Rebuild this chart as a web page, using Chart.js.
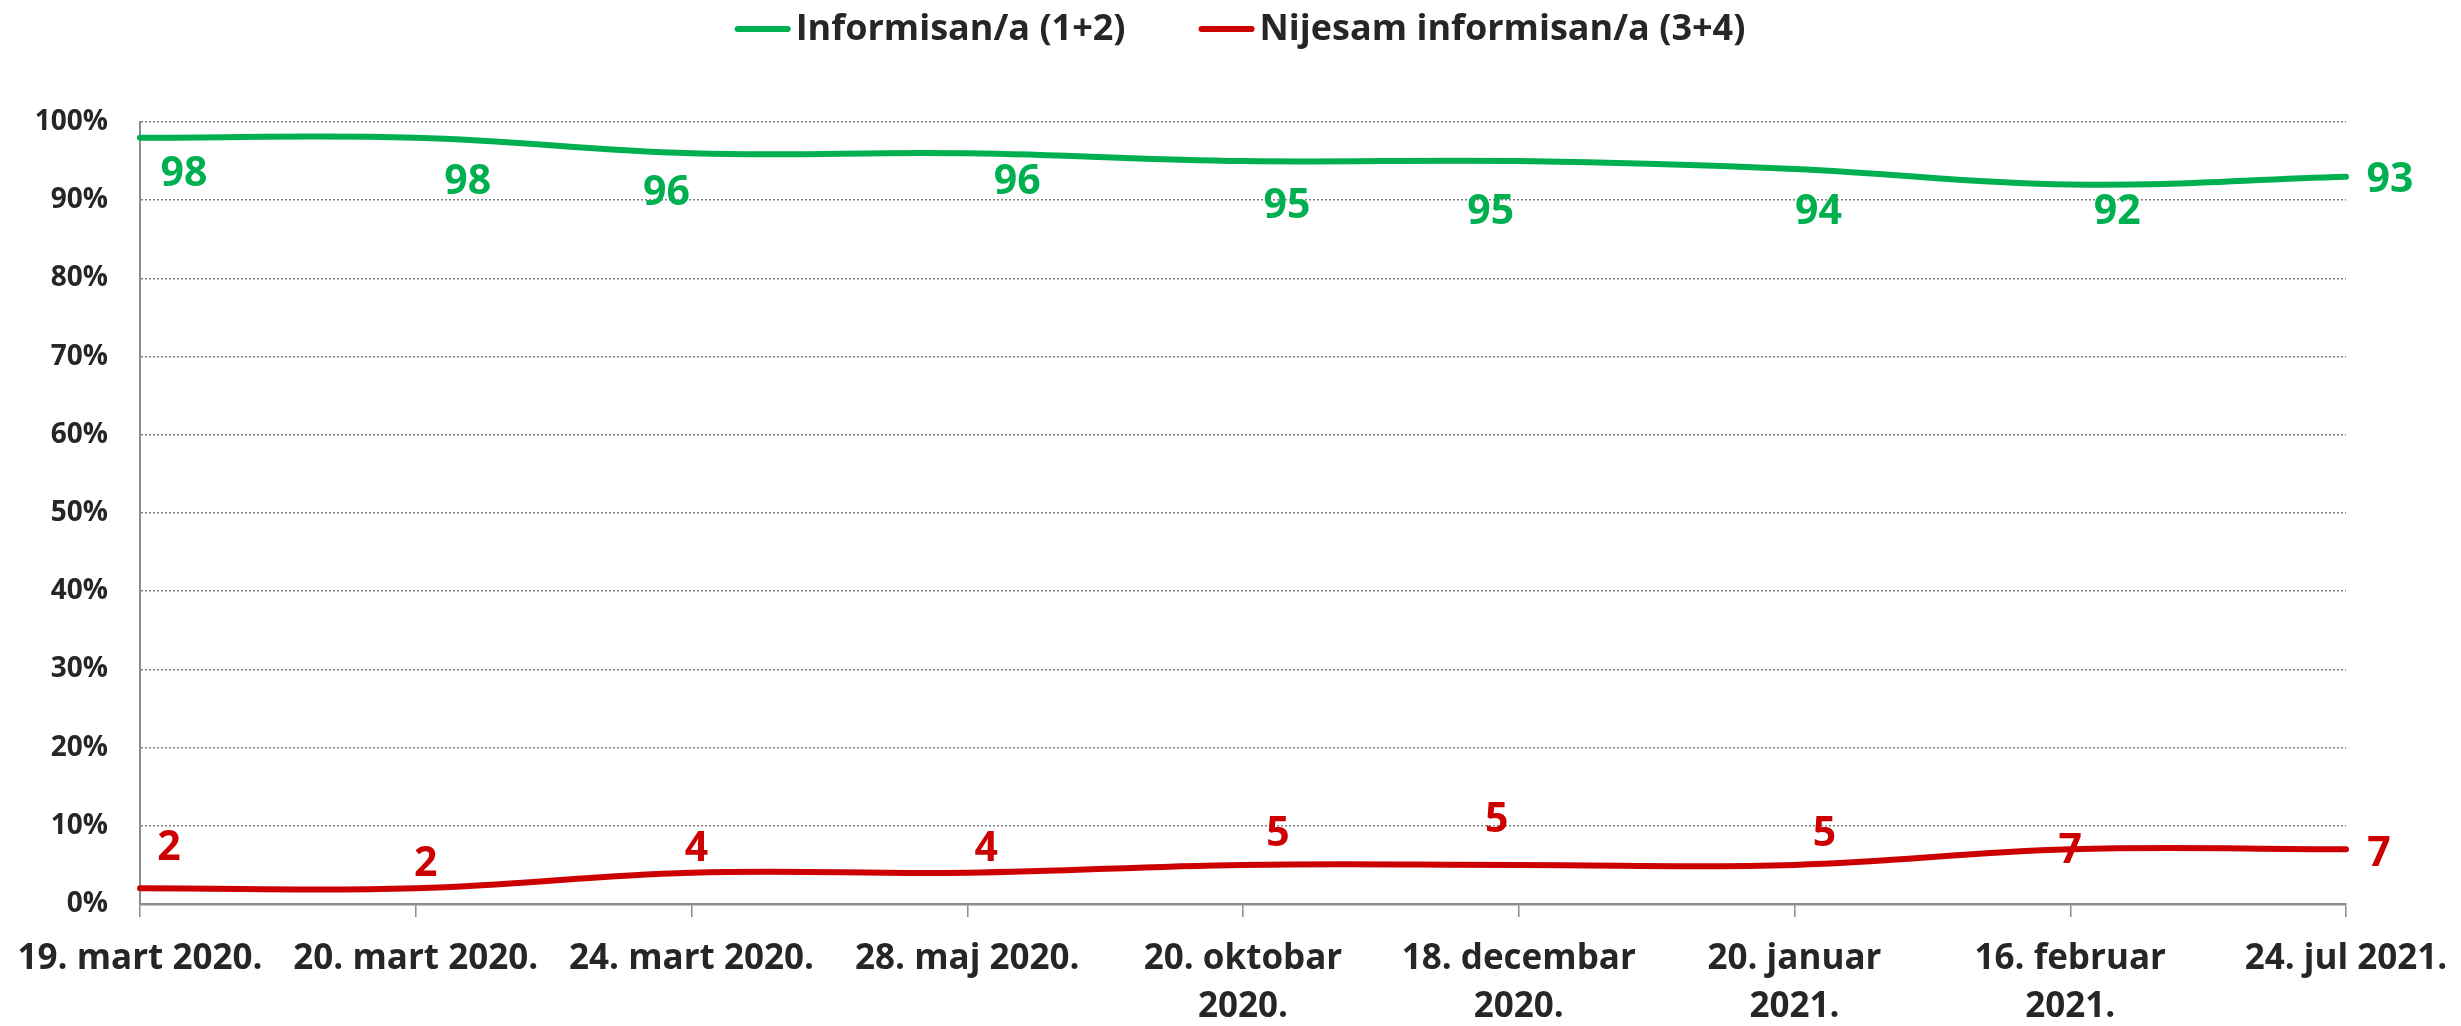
<!DOCTYPE html>
<html>
<head>
<meta charset="utf-8">
<script src="https://cdn.jsdelivr.net/npm/chart.js@4.4.1/dist/chart.umd.min.js"></script>
<style>
  html, body { margin: 0; padding: 0; background: #fff; }
  #wrap { width: 2461px; height: 1026px; }
</style>
</head>
<body>
<div id="wrap"><canvas id="lineChart"></canvas></div>
<script>
// survey dates (x axis), two-line where the original wraps
const dates = [
  "19. mart 2020.",
  "20. mart 2020.",
  "24. mart 2020.",
  "28. maj 2020.",
  ["20. oktobar", "2020."],
  ["18. decembar", "2020."],
  ["20. januar", "2021."],
  ["16. februar", "2021."],
  "24. jul 2021."
];
const informisan = [98, 98, 96, 96, 95, 95, 94, 92, 93];
const nijeInformisan = [2, 2, 4, 4, 5, 5, 5, 7, 7];
const yTicks = [0, 10, 20, 30, 40, 50, 60, 70, 80, 90, 100];

// label nudges relative to the point (px), like the hand placed labels in the original
const greenShift = [[44, 35], [52, 43], [-25, 38], [50, 27], [44, 43], [-28, 49], [24, 41], [47, 26], [44, 2]];
const redShift = [[29, -42], [10, -26], [5, -25], [19, -25], [35, -33], [-22, -47], [30, -33], [0, 0], [33, 3]];

const GREEN = "#00B050";
const RED = "#CC0000";
const TEXT = "#262626";
const AXIS = "#8c8c8c";
const FONT = "'Open Sans', 'DejaVu Sans', sans-serif";

const valueLabels = {
  id: "valueLabels",
  afterDatasetsDraw(chart) {
    const ctx = chart.ctx;
    const shifts = [greenShift, redShift];
    chart.data.datasets.forEach((ds, di) => {
      const meta = chart.getDatasetMeta(di);
      ctx.save();
      ctx.font = "bold 41px " + FONT;
      ctx.fillStyle = ds.borderColor;
      ctx.textAlign = "center";
      ctx.textBaseline = "middle";
      meta.data.forEach((pt, i) => {
        const s = shifts[di][i];
        ctx.fillText(String(ds.data[i]), pt.x + s[0], pt.y + s[1] + 2);
      });
      ctx.restore();
    });
  }
};

// legend drawn by hand: a short thick line then the label
const lineLegend = {
  id: "lineLegend",
  afterDraw(chart) {
    const ctx = chart.ctx;
    const lineLen = 56, gap = 5, itemGap = 73, y = 29;
    ctx.save();
    ctx.font = "bold 36px " + FONT;
    const items = chart.data.datasets.map(ds => ({
      text: ds.label, color: ds.borderColor, w: ctx.measureText(ds.label).width
    }));
    let total = items.reduce((s, it) => s + lineLen + gap + it.w, 0) + itemGap * (items.length - 1);
    let x = 1240 - total / 2;
    items.forEach(it => {
      ctx.strokeStyle = it.color;
      ctx.lineWidth = 6;
      ctx.lineCap = "round";
      ctx.beginPath();
      ctx.moveTo(x + 3, y);
      ctx.lineTo(x + lineLen - 3, y);
      ctx.stroke();
      ctx.fillStyle = TEXT;
      ctx.textAlign = "left";
      ctx.textBaseline = "middle";
      ctx.fillText(it.text, x + lineLen + gap, y + 1);
      x += lineLen + gap + it.w + itemGap;
    });
    ctx.restore();
  }
};

new Chart(document.getElementById("lineChart"), {
  type: "line",
  data: {
    labels: dates,
    datasets: [{
      label: "Informisan/a (1+2)",
      data: informisan,
      borderColor: GREEN,
      backgroundColor: GREEN,
      borderWidth: 6,
      pointRadius: 0,
      tension: 0.4,
      borderCapStyle: "round"
    }, {
      label: "Nijesam informisan/a (3+4)",
      data: nijeInformisan,
      borderColor: RED,
      backgroundColor: RED,
      borderWidth: 6,
      pointRadius: 0,
      tension: 0.4,
      borderCapStyle: "round"
    }]
  },
  options: {
    responsive: true,
    maintainAspectRatio: false,
    animation: false,
    layout: { padding: { top: 122, right: 115, left: 0, bottom: 0 } },
    plugins: {
      legend: { display: false },
      tooltip: { enabled: false }
    },
    scales: {
      x: {
        offset: false,
        grid: { drawOnChartArea: false, drawTicks: true, tickLength: 13, color: AXIS, lineWidth: 1.5 },
        border: { display: true, color: AXIS, width: 2.5 },
        ticks: {
          color: TEXT,
          padding: 18,
          maxRotation: 0,
          autoSkip: false,
          font: { family: FONT, size: 35, weight: "bold", lineHeight: 1.37 }
        },
        afterFit(scale) {
          scale.height = 122;
          scale.paddingLeft = 0;
          scale.paddingRight = 0;
        }
      },
      y: {
        min: 0,
        max: 100,
        afterBuildTicks(scale) { scale.ticks = yTicks.map(v => ({ value: v })); },
        grid: { drawTicks: false, color: "#808080", lineWidth: 1.5 },
        border: { display: true, color: AXIS, width: 2, dash: [2, 2] },
        ticks: {
          color: TEXT,
          padding: 32,
          font: { family: FONT, size: 28, weight: "bold" },
          callback: v => v + "%"
        },
        afterFit(scale) { scale.width = 140; }
      }
    }
  },
  plugins: [valueLabels, lineLegend]
});
</script>
</body>
</html>
